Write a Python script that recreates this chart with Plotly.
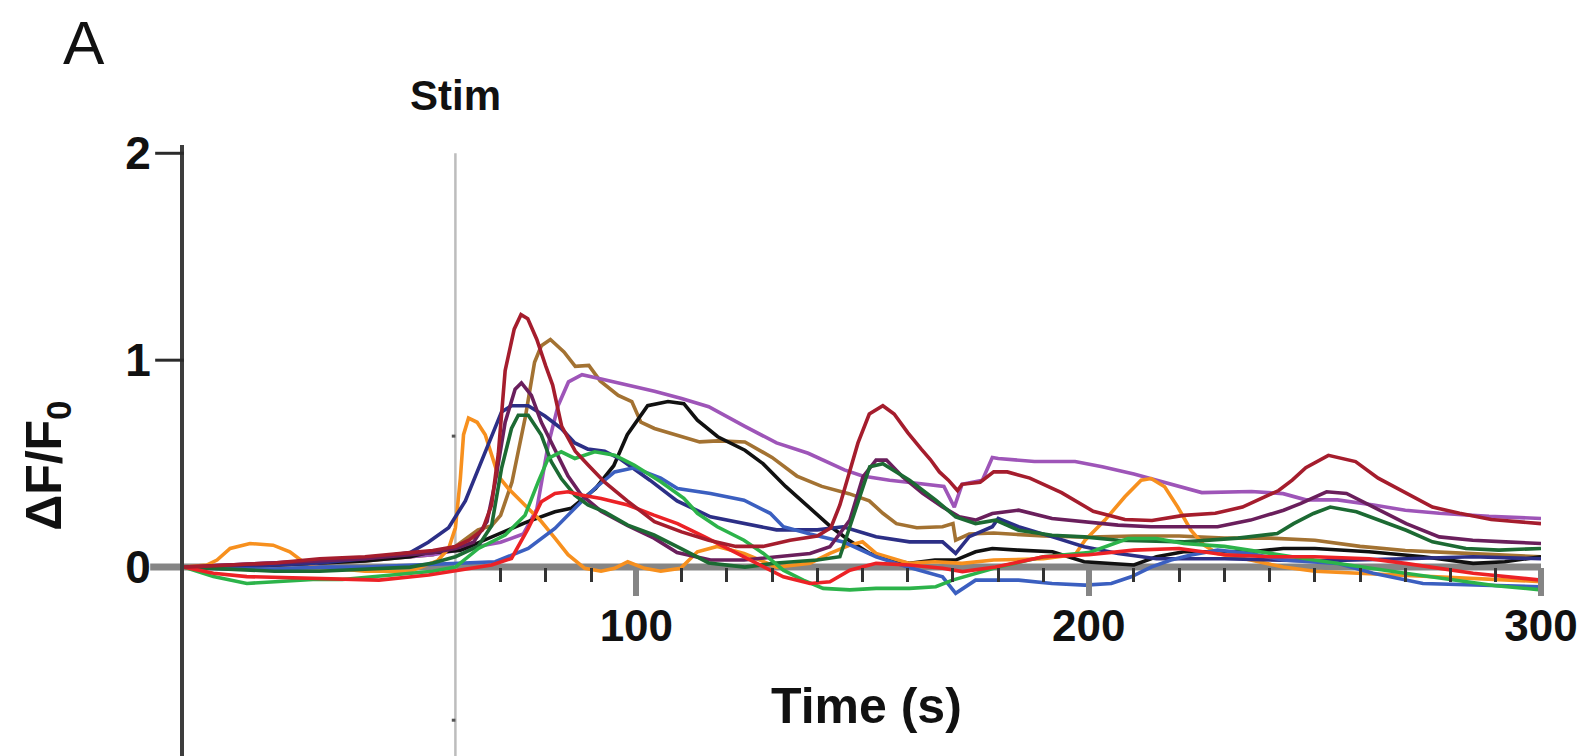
import plotly.graph_objects as go

# ---------------- data ----------------
dark_red_t = [0,10,20,30,40,50,55,60,63,66,68,69.5,71,73,74.5,76,78,80,81.5,83.5,86.5,89.5,93,98,104,110,116,122,128,134,140,143,145,147,149,151.5,154.5,157,160,163,165,167,169,171,172,176,179,182,187,194,201,208,214,221,228,234,238,242,245,248,253,259,264,270,276,282,289,300]
dark_red_v = [0,0.01,0.02,0.04,0.05,0.07,0.08,0.1,0.13,0.18,0.3,0.55,0.95,1.15,1.22,1.2,1.1,0.97,0.88,0.68,0.56,0.49,0.41,0.32,0.22,0.17,0.13,0.1,0.1,0.13,0.15,0.19,0.3,0.45,0.6,0.74,0.78,0.74,0.65,0.57,0.52,0.46,0.42,0.37,0.40,0.41,0.46,0.46,0.43,0.36,0.27,0.23,0.225,0.25,0.26,0.29,0.33,0.37,0.42,0.48,0.54,0.51,0.43,0.36,0.29,0.26,0.23,0.21]

brown_t = [0,10,20,30,40,50,55,60,65,68,70,72.5,75.5,77.5,79,81,84,86.5,89.5,92,96,99,101,104,110,114,118,124,130,135.5,141,147,151.5,154.5,157.5,162,167.7,170,170.6,173.6,179,190,200,210,220,230,240,250,260,270,280,290,300]
brown_v = [0,0.0,0.01,0.02,0.03,0.05,0.06,0.1,0.18,0.2,0.25,0.41,0.73,0.99,1.07,1.10,1.04,0.97,0.975,0.9,0.83,0.8,0.7,0.67,0.63,0.605,0.61,0.605,0.53,0.44,0.39,0.355,0.32,0.26,0.21,0.19,0.195,0.21,0.13,0.16,0.165,0.15,0.145,0.15,0.15,0.14,0.14,0.13,0.1,0.08,0.07,0.06,0.05]

purple_t = [0,10,20,30,40,50,55,60,65,70,75,78,80.5,82.7,85,88,92,98,104,110,116,124,131,138,146,150,156,162,168,170.3,172,176.5,178.7,180,188,197,203,210,217.5,225,236,243,248,255,263,270,277.5,288.5,300]
purple_v = [0,0.01,0.02,0.03,0.04,0.05,0.06,0.08,0.1,0.12,0.16,0.28,0.59,0.78,0.895,0.93,0.91,0.88,0.85,0.815,0.775,0.68,0.6,0.55,0.47,0.44,0.42,0.405,0.39,0.29,0.40,0.42,0.53,0.525,0.51,0.51,0.485,0.45,0.405,0.36,0.365,0.355,0.325,0.325,0.30,0.275,0.26,0.245,0.235]

black_t = [0,10,20,30,40,50,54,61,69,76,82,85.6,91,95,98,102.5,107,110.5,113.5,118,124,128,133,138,143,147,151.6,156,160.4,166,170.6,175,178.7,184.5,192,199,205,210,215,221,228.5,236,243,250,262,274,285,292,300]
black_v = [0,0.0,0.01,0.02,0.03,0.05,0.07,0.08,0.155,0.22,0.267,0.284,0.38,0.49,0.64,0.78,0.8,0.79,0.71,0.63,0.565,0.5,0.39,0.29,0.195,0.13,0.066,0.034,0.018,0.034,0.034,0.074,0.09,0.082,0.074,0.026,0.018,0.01,0.05,0.074,0.074,0.074,0.09,0.09,0.074,0.05,0.018,0.026,0.05]

orange_t = [0,5,7.3,10.2,14.6,19.7,23.4,26.3,30,40,50,56,58.5,60,61.1,61.8,62.9,64.8,66.6,68,69.5,71.7,73.9,76.1,79,82,84.9,88.6,92.2,95.2,98.1,101.8,105.4,109.8,113.5,117.9,123.8,131,138.4,142.8,147.2,150,153,160.4,166,172,179,190,197,199.2,203.6,208,211.6,213.8,216.8,219.7,222.6,225.5,228.5,235.8,243,250,260,270,280,290,300]
orange_v = [0,0.01,0.034,0.09,0.114,0.106,0.074,0.026,0.0,-0.02,-0.02,0.03,0.09,0.19,0.43,0.64,0.72,0.70,0.64,0.54,0.44,0.38,0.33,0.28,0.22,0.14,0.06,-0.006,-0.02,-0.006,0.026,-0.006,-0.02,-0.006,0.074,0.1,0.066,0.0,0.018,0.066,0.106,0.122,0.066,0.018,0.026,0.018,0.034,0.04,0.06,0.13,0.227,0.34,0.42,0.428,0.388,0.29,0.178,0.106,0.066,0.034,0.0,-0.02,-0.03,-0.04,-0.05,-0.06,-0.07]

navy_t = [0,10,20,30,40,50,54,58.5,62.2,65.1,68,70.2,72.4,76.1,79.8,83.4,86.4,89.3,93,96.6,103,109,116.4,123.8,131,140,145.7,153,160.4,167.7,170.6,173.6,178.7,180,184.5,192,199,206.5,215,230,250,270,285,300]
navy_v = [0,0.0,0.01,0.02,0.04,0.07,0.12,0.19,0.32,0.48,0.64,0.75,0.78,0.78,0.73,0.67,0.6,0.57,0.56,0.52,0.42,0.32,0.243,0.21,0.18,0.18,0.195,0.147,0.122,0.122,0.066,0.147,0.195,0.235,0.195,0.146,0.098,0.066,0.04,0.04,0.03,0.04,0.05,0.04]

blue_t = [0,10,20,30,40,50,60,68.8,76.1,82,86.4,90.8,95.2,99.5,105.4,109.1,116.4,123.8,129.6,132.5,138.4,146,153,160,167.7,170.6,175,179.4,184.5,191.9,199.2,205,209.4,213.8,218.2,222.6,228.5,235.8,243,255,262.9,273.9,284.9,300]
blue_v = [0,-0.01,-0.01,0.0,0.0,0.01,0.02,0.026,0.09,0.187,0.284,0.38,0.46,0.48,0.43,0.38,0.356,0.323,0.26,0.195,0.16,0.12,0.05,0.0,-0.047,-0.127,-0.063,-0.063,-0.063,-0.079,-0.087,-0.079,-0.047,0.0,0.034,0.058,0.082,0.066,0.034,0.018,-0.03,-0.079,-0.087,-0.095]

plum_t = [0,10,20,30,40,50,55,60,64,67,68.8,71,73.2,74.6,76.8,79,82,84.9,87.8,92.2,98.1,103.9,109,116.4,123.8,131.1,138.4,142.8,147.2,150.1,153,155.3,158.9,163.3,167.7,171.4,175,178.7,184.5,191.9,199.2,206.5,213.8,221.2,228.5,235.8,243.1,246.8,252.6,257,262.9,270.2,277.5,284.9,292.2,300]
plum_v = [0,0.01,0.02,0.03,0.04,0.06,0.07,0.09,0.12,0.22,0.41,0.70,0.86,0.89,0.83,0.70,0.57,0.44,0.35,0.27,0.2,0.14,0.07,0.034,0.034,0.05,0.066,0.098,0.227,0.436,0.517,0.517,0.436,0.356,0.291,0.243,0.227,0.259,0.275,0.235,0.219,0.203,0.195,0.195,0.195,0.227,0.275,0.307,0.364,0.356,0.291,0.21,0.146,0.13,0.122,0.114]

dkgreen_t = [0,10,20,30,40,50,55,60,65,68,70.2,72.4,73.9,76.1,79,81.2,83.4,86.4,89.3,93,98.1,103.9,109.8,116,124,131,140,145,147.2,151.6,154.5,160.4,166.2,170.6,175,179.4,184.5,191.9,199,206.5,221.2,233,241.7,245.3,249.7,253.4,259.2,264.3,270.2,276,283.4,290.7,300]
dkgreen_v = [0,-0.01,-0.02,-0.02,-0.01,0.0,0.02,0.05,0.1,0.2,0.477,0.67,0.734,0.734,0.638,0.509,0.428,0.348,0.3,0.267,0.203,0.155,0.09,0.02,0.0,0.02,0.034,0.05,0.195,0.485,0.5,0.42,0.324,0.243,0.21,0.227,0.178,0.154,0.146,0.13,0.122,0.14,0.162,0.21,0.259,0.29,0.267,0.227,0.178,0.122,0.09,0.082,0.09]

green_t = [0,6.5,13.9,21.2,28.5,35,45,55,60,65.1,71,75.4,78.3,80.5,83.4,86.4,90.8,95.2,99.5,105.4,110.5,113.5,117.9,123.8,128.1,132.5,136.9,141.3,147.2,153,160.4,166.2,169.9,175,180,190,200,208.7,215,221,230,245,260,270,280,290,300]
green_v = [0,-0.046,-0.079,-0.071,-0.06,-0.06,-0.04,-0.02,0.0,0.09,0.155,0.251,0.412,0.525,0.557,0.525,0.557,0.541,0.493,0.412,0.332,0.26,0.195,0.13,0.066,-0.015,-0.063,-0.103,-0.11,-0.103,-0.103,-0.095,-0.063,-0.03,0.0,0.05,0.07,0.138,0.138,0.114,0.1,0.05,0.0,-0.03,-0.06,-0.09,-0.11]

red_t = [0,6.5,13.9,28.5,43.1,54.1,62.9,68,72.4,76.1,79,82,84.9,87.8,92.2,98.1,103.9,109.1,115,120.8,126.7,132.5,138.4,142.8,147.2,153,160.4,167.7,172.1,179.4,190,200,210,220,230,240,250,262,270,285,300]
red_v = [0,-0.03,-0.046,-0.055,-0.063,-0.038,-0.006,0.01,0.042,0.187,0.316,0.356,0.364,0.348,0.332,0.3,0.251,0.21,0.147,0.082,0.018,-0.047,-0.079,-0.071,-0.015,0.018,0.01,-0.006,-0.022,0.0,0.05,0.06,0.082,0.09,0.06,0.05,0.05,0.04,0.018,-0.03,-0.063]

series = [
    (brown_t, brown_v, "#a37232"),
    (purple_t, purple_v, "#9e55b8"),
    (black_t, black_v, "#111111"),
    (orange_t, orange_v, "#f7901e"),
    (navy_t, navy_v, "#2c2f86"),
    (blue_t, blue_v, "#3b5fc0"),
    (plum_t, plum_v, "#6a1f5c"),
    (dkgreen_t, dkgreen_v, "#1c6a33"),
    (green_t, green_v, "#2cb34a"),
    (red_t, red_v, "#ec2226"),
    (dark_red_t, dark_red_v, "#a51d2d"),
]

x_major = [100, 200, 300]
x_minor = [70, 80, 90, 110, 120, 130, 140, 150, 160, 170, 180, 190,
           210, 220, 230, 240, 250, 260, 270, 280, 290]
y_ticks = [0, 1, 2]
stim_time = 60
stim_marks = [0.633, -0.74]

# ---------------- figure ----------------
Y0, Y1 = -0.913, 2.04
FONT = "Liberation Sans, Arial, sans-serif"

fig = go.Figure()
for t, v, c in series:
    fig.add_trace(go.Scatter(x=t, y=v, mode="lines",
                             line=dict(color=c, width=3.6),
                             showlegend=False, hoverinfo="skip"))

xpos = (0 - Y0) / (Y1 - Y0)

fig.update_layout(
    width=1578, height=756,
    margin=dict(l=184, r=29, t=145, b=0),
    paper_bgcolor="white", plot_bgcolor="white",
    font=dict(family=FONT, color="#111111"),
    xaxis=dict(
        range=[0, 300], anchor="free", position=xpos,
        showline=False, showgrid=False, zeroline=False,
        tickvals=x_major, ticktext=[f"<b>{v}</b>" for v in x_major],
        ticks="outside", ticklen=28, tickwidth=6, tickcolor="#858585",
        tickfont=dict(size=44, family=FONT, color="#111111"),
        ticklabelstandoff=-8, ticklabeloverflow="allow",
        minor=dict(tickvals=x_minor, ticks="outside", ticklen=14,
                   tickwidth=3, tickcolor="#333333", showgrid=False),
    ),
    yaxis=dict(
        range=[Y0, Y1], showgrid=False, zeroline=False,
        showline=True, linecolor="#3d3d3d", linewidth=4,
        tickvals=y_ticks, ticktext=[f"<b>{v}</b>" for v in y_ticks],
        ticks="outside", ticklen=28, tickwidth=3, tickcolor="rgba(0,0,0,0)",
        tickfont=dict(size=46, family=FONT, color="#111111"),
        ticklabelstandoff=-8, ticklabeloverflow="allow",
    ),
)

shapes = []
# stim line
shapes.append(dict(type="line", xref="x", yref="y", x0=stim_time, x1=stim_time,
                   y0=Y0, y1=2.0, line=dict(color="#bdbdbd", width=2.5), layer="below"))
# tiny marks on the stim line
for ym in stim_marks:
    shapes.append(dict(type="line", xref="x", yref="y", x0=stim_time - 0.8, x1=stim_time,
                       y0=ym, y1=ym, line=dict(color="#555555", width=3), layer="below"))
# x-axis line at y=0 (extends left as the 0 tick)
shapes.append(dict(type="line", xref="paper", yref="y", x0=-34 / 1365, x1=1.0,
                   y0=0, y1=0, line=dict(color="#858585", width=7), layer="below"))
# y ticks at 1 and 2
for yv in [1, 2]:
    shapes.append(dict(type="line", xref="paper", yref="y", x0=-29 / 1365, x1=0,
                       y0=yv, y1=yv, line=dict(color="#2a2a2a", width=3), layer="above"))
fig.update_layout(shapes=shapes)

annotations = [
    dict(text="A", xref="paper", yref="paper", x=(83 - 184) / 1365, y=(756 - 43) / 611,
         showarrow=False, font=dict(size=62, family=FONT, color="#111111"),
         xanchor="center", yanchor="middle"),
    dict(text="<b>Stim</b>", xref="x", yref="paper", x=stim_time, y=(756 - 95) / 611,
         showarrow=False, font=dict(size=42, family=FONT, color="#111111"),
         xanchor="center", yanchor="middle"),
    dict(text="<b>Time (s)</b>", xref="paper", yref="paper", x=(871 - 184) / 1365,
         y=(756 - 706) / 611, showarrow=False,
         font=dict(size=50, family=FONT, color="#111111"),
         xanchor="center", yanchor="middle"),
    dict(text="<b>ΔF/F<sub>0</sub></b>", xref="paper", yref="paper",
         x=(46 - 184) / 1365, y=(756 - 466) / 611, textangle=-90, showarrow=False,
         font=dict(size=50, family=FONT, color="#111111"),
         xanchor="center", yanchor="middle"),
]
fig.update_layout(annotations=annotations)

fig.write_html("out.html", config={"displayModeBar": False})
